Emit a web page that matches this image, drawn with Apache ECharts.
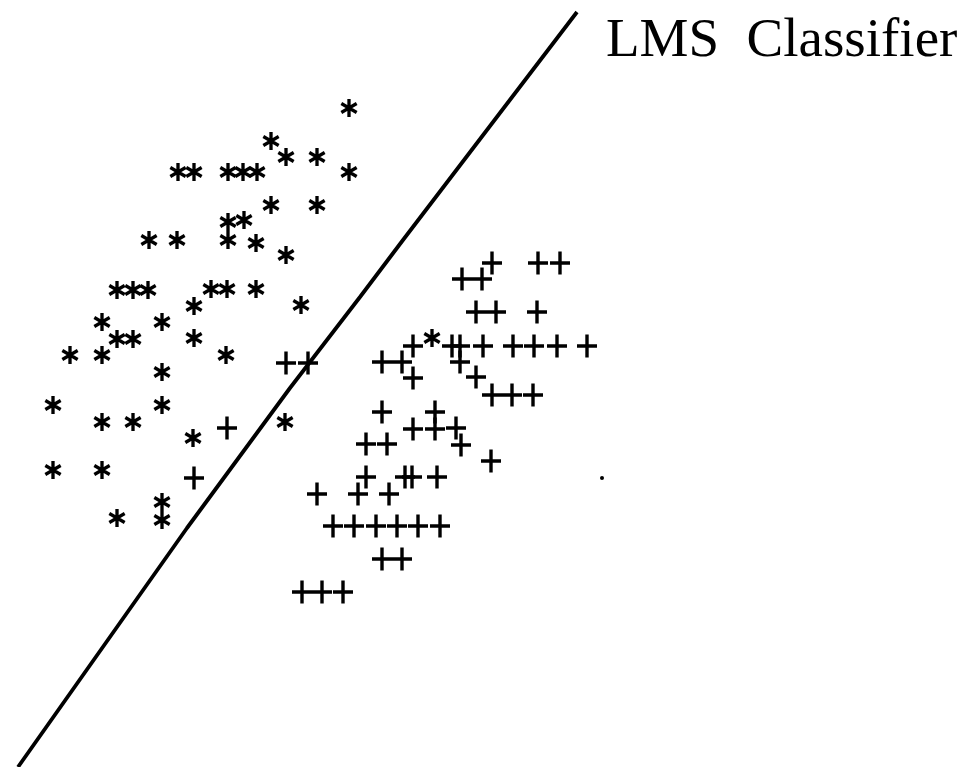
<!DOCTYPE html>
<html>
<head>
<meta charset="utf-8">
<title>LMS Classifier</title>
<script src="https://cdn.jsdelivr.net/npm/echarts@6/dist/echarts.min.js"></script>
<style>
  html, body { margin: 0; padding: 0; background: #fff; }
  #chart { width: 967px; height: 767px; }
</style>
</head>
<body>
<div id="chart"></div>
<script>
// Class A samples (drawn as asterisks): [feature 1, feature 2]
const classA = [
  [349, 659], [271, 626], [286, 610], [317, 610],
  [178, 595], [194, 595], [228, 595], [243, 595], [257, 595], [349, 595],
  [271, 562], [317, 562], [228, 545], [244, 547],
  [149, 527], [177, 527], [228, 527], [256, 524], [286, 512],
  [117, 477], [133, 477], [148, 477], [211, 478], [227, 478], [256, 478],
  [301, 462], [194, 461], [102, 445], [162, 445],
  [117, 428], [133, 428], [194, 429],
  [70, 412], [102, 412], [226, 412], [162, 395],
  [53, 362], [162, 362], [102, 345], [133, 345], [285, 345],
  [193, 329], [53, 297], [102, 297],
  [162, 265], [162, 247], [117, 249],
  [432, 429]
];

// Class B samples (drawn as plus signs)
const classB = [
  [286, 404], [308, 404], [227, 339], [194, 289], [317, 273],
  [492, 504], [538, 504], [560, 504], [462, 488], [482, 488],
  [476, 455], [496, 455], [537, 455],
  [413, 421], [452, 421], [460, 421], [483, 421], [513, 421], [534, 421], [557, 421], [587, 421],
  [382, 405], [402, 405], [460, 405], [413, 389], [476, 390],
  [492, 372], [512, 372], [533, 372],
  [382, 355], [435, 355], [413, 338], [435, 338], [456, 339], [461, 322],
  [366, 323], [387, 323], [491, 306],
  [366, 290], [405, 290], [412, 290], [437, 290],
  [358, 273], [389, 273],
  [333, 241], [354, 241], [376, 241], [397, 241], [418, 241], [440, 241],
  [382, 208], [402, 208],
  [302, 175], [322, 175], [343, 175]
];

// Stray sample point
const stray = [[602, 289]];

// Decision boundary found by the LMS rule
const boundary = [[18, 0], [187, 239], [290, 379], [360, 470], [403, 527], [577, 755]];

const xRange = [0, 967];
const yRange = [0, 767];

// Glyph outlines for the two class markers
const plusPath = 'path://M8.3,0 H11.7 V9.3 H20 V12.7 H11.7 V22 H8.3 V12.7 H0 V9.3 H8.3 Z';
const starPath = 'path://M8.5,2 L11.5,2 L11.5,18 L8.5,18 Z ' +
  'M16.178,4.701 L17.678,7.299 L3.822,15.299 L2.322,12.701 Z ' +
  'M2.322,7.299 L3.822,4.701 L17.678,12.701 L16.178,15.299 Z';

const chart = echarts.init(document.getElementById('chart'), null, { renderer: 'canvas' });

chart.setOption({
  backgroundColor: '#ffffff',
  animation: false,
  title: {
    text: 'LMS  Classifier',
    left: 601,
    top: 9,
    textStyle: {
      fontFamily: 'Liberation Serif',
      fontWeight: 'normal',
      fontSize: 55,
      lineHeight: 55,
      color: '#000'
    }
  },
  grid: { left: 0, right: 0, top: 0, bottom: 0 },
  xAxis: { type: 'value', min: xRange[0], max: xRange[1], show: false },
  yAxis: { type: 'value', min: yRange[0], max: yRange[1], show: false },
  series: [
    {
      name: 'boundary',
      type: 'line',
      data: boundary,
      symbol: 'none',
      silent: true,
      lineStyle: { color: '#000', width: 3.8 },
      z: 1
    },
    {
      name: 'class A',
      type: 'scatter',
      data: classA,
      symbol: starPath,
      symbolSize: [17, 18],
      itemStyle: { color: '#000', opacity: 1 },
      z: 2
    },
    {
      name: 'class B',
      type: 'scatter',
      data: classB,
      symbol: plusPath,
      symbolSize: [20, 23],
      itemStyle: { color: '#000', opacity: 1 },
      z: 2
    },
    {
      name: 'stray',
      type: 'scatter',
      data: stray,
      symbol: 'circle',
      symbolSize: 4,
      itemStyle: { color: '#000', opacity: 1 },
      z: 2
    }
  ]
});
</script>
</body>
</html>
